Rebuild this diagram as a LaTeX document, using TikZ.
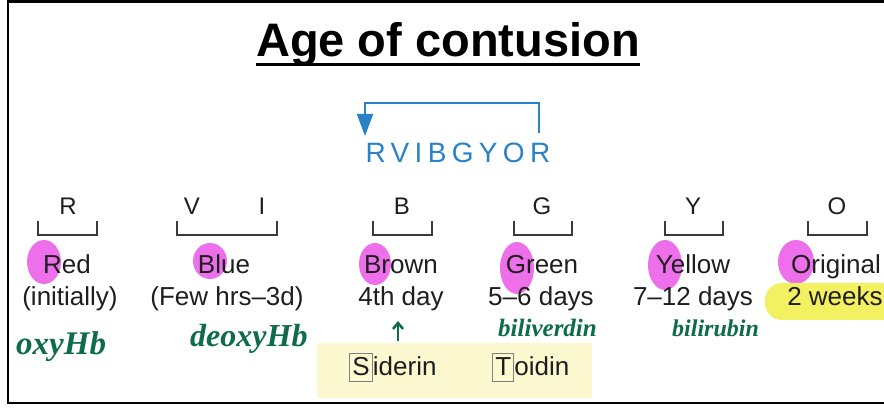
\documentclass[tikz,border=0pt]{standalone}
\usepackage{fontspec}
\setmainfont{Liberation Sans}
\newfontfamily\handfont{Liberation Serif}
\usetikzlibrary{arrows.meta}
\definecolor{txt}{HTML}{1E1E1E}
\definecolor{rvblue}{HTML}{2A82C6}
\definecolor{hlpink}{HTML}{EE6FEA}
\definecolor{hlyellow}{HTML}{F3F061}
\definecolor{paleyel}{HTML}{FCF8D0}
\definecolor{handgreen}{HTML}{0E6B4B}
\definecolor{brk}{HTML}{3A3A3A}
\newcommand{\boxedletter}[1]{{\setlength\fboxsep{2pt}\setlength\fboxrule{1.2pt}\fcolorbox{gray}{paleyel}{\rule[-3pt]{0pt}{23pt}#1}}}
\begin{document}
\begin{tikzpicture}[x=1pt,y=-1pt,
  titlestyle/.style={font=\fontsize{47}{56}\selectfont\bfseries, inner sep=0, anchor=base},
  letterstyle/.style={font=\fontsize{24}{28}\selectfont, text=txt, inner sep=0, anchor=base},
  labstyle/.style={font=\fontsize{26}{30}\selectfont, text=txt, inner sep=0, anchor=base},
  bracket/.style={draw=brk, line width=1.6pt},
  pinkspot/.style={fill=hlpink},
  handstyle/.style={font=\handfont\bfseries\itshape, text=handgreen, inner sep=0, anchor=base west}]
\useasboundingbox (0,0) rectangle (884,411);
% frame
\draw[line width=2.5pt] (890,1.5) -- (8,1.5) -- (8,403) -- (890,403);
% title
\node[titlestyle] (title) at (448,57) {Age of contusion};
\draw[line width=3pt] ([yshift=-8pt]title.base west) -- ([yshift=-8pt]title.base east);
% rainbow word and arrow
\node[font=\fontsize{28}{32}\selectfont, text=rvblue, inner sep=0, anchor=base] (rv) at (458,163) {\addfontfeature{LetterSpace=19}RVIBGYOR};
\coordinate (rvend) at (539,133);
\coordinate (rvstart) at (365,136);
\draw[rvblue, line width=2pt, -{Triangle[length=22pt,width=16pt]}] (rvend) -- (539,103) -| (rvstart);
% letters
\node[letterstyle] (lR) at (68,215) {R};
\node[letterstyle] (lV) at (192,215) {V};
\node[letterstyle] (lI) at (262,215) {I};
\node[letterstyle] (lB) at (402,215) {B};
\node[letterstyle] (lG) at (542,215) {G};
\node[letterstyle] (lY) at (693,215) {Y};
\node[letterstyle] (lO) at (837,215) {O};
% brackets
\draw[bracket] (38,221) -- (38,235) -- (97,235) -- (97,221);
\draw[bracket] (177,221) -- (177,235) -- (277,235) -- (277,221);
\draw[bracket] (373,221) -- (373,235) -- (432,235) -- (432,221);
\draw[bracket] (514,221) -- (514,235) -- (572,235) -- (572,221);
\draw[bracket] (665,221) -- (665,235) -- (723,235) -- (723,221);
\draw[bracket] (808,221) -- (808,235) -- (867,235) -- (867,221);
% highlights
\fill[pinkspot] (44,262) ellipse [x radius=17, y radius=22];
\fill[pinkspot] (210,261) ellipse [x radius=17, y radius=18];
\fill[pinkspot] (375,264) ellipse [x radius=16, y radius=21];
\fill[pinkspot] (517,268) ellipse [x radius=17, y radius=26];
\fill[pinkspot] (665,265) ellipse [x radius=17, y radius=25];
\fill[pinkspot] (796,262) ellipse [x radius=18, y radius=22];
\fill[hlyellow, rounded corners=17pt] (765,283) rectangle (900,320);
% colour names
\node[labstyle] (red) at (67,274) {Red};
\node[labstyle] (blue) at (224,274) {Blue};
\node[labstyle] (brown) at (401,274) {Brown};
\node[labstyle] (green) at (542,274) {Green};
\node[labstyle] (yellow) at (693,274) {Yellow};
\node[labstyle] (orig) at (836,274) {Original};
\node[labstyle] (t1) at (70,306) {(initially)};
\node[labstyle] (t2) at (227,306) {(Few hrs–3d)};
\node[labstyle] (t3) at (401,306) {4th day};
\node[labstyle] (t4) at (541,306) {5–6 days};
\node[labstyle] (t5) at (693,306) {7–12 days};
\node[labstyle] (t6) at (835,306) {2 weeks};
% pale box
\fill[paleyel] (317,343) rectangle (592,398);
\node[labstyle, anchor=base west] (sid) at (349,376) {\boxedletter{S}iderin};
\node[labstyle, anchor=base west] (toi) at (492,376) {\boxedletter{T}oidin};
% handwriting
\node[handstyle, font=\handfont\bfseries\itshape\fontsize{33}{36}\selectfont] (oxy) at (16,355) {oxyHb};
\node[handstyle, font=\handfont\bfseries\itshape\fontsize{32}{36}\selectfont] (deoxy) at (190,347) {deoxyHb};
\node[handstyle, font=\handfont\bfseries\itshape\fontsize{25}{30}\selectfont] (bv) at (498,337) {biliverdin};
\node[handstyle, font=\handfont\bfseries\itshape\fontsize{24}{30}\selectfont] (br) at (672,337) {bilirubin};
\coordinate (upA) at (398,341);
\coordinate (upB) at (398,321);
\draw[handgreen, line width=2.5pt, -{Straight Barb[length=6pt,width=10pt]}] (upA) -- (upB);
\end{tikzpicture}
\end{document}
